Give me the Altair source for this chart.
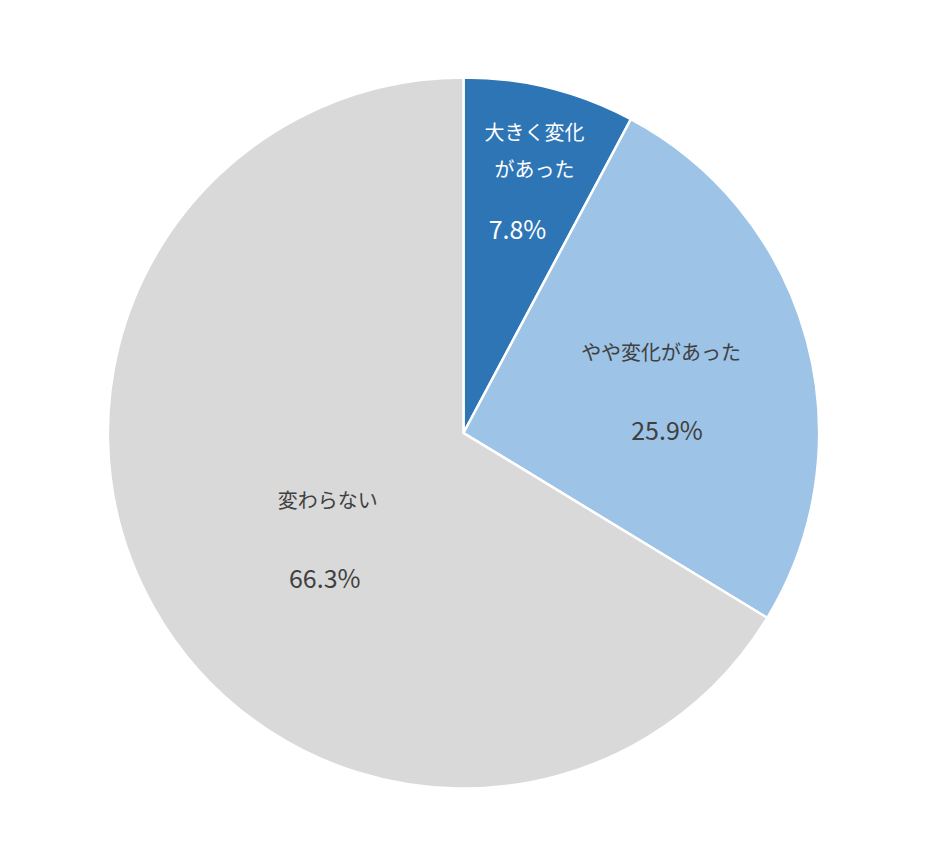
import altair as alt
import pandas as pd

categories = ["大きく変化があった", "やや変化があった", "変わらない"]
values = [7.8, 25.9, 66.3]
label_lines = ["大きく変化\nがあった", "やや変化があった", "変わらない"]
colors = ["#2E75B6", "#9DC3E6", "#D9D9D9"]
text_colors = ["#FFFFFF", "#404040", "#404040"]

df = pd.DataFrame({
    "category": categories,
    "value": values,
    "name": label_lines,
    "idx": list(range(len(categories))),
})

FONT = "Noto Sans CJK JP"
theta_scale = alt.Scale(domain=[0, 100])

base = alt.Chart(df).transform_window(
    cum="sum(value)", sort=[alt.SortField("idx")], frame=[None, 0]
).transform_calculate(
    start="datum.cum - datum.value",
    mid="datum.cum - datum.value / 2",
    pct="format(datum.value, '.1f') + '%'",
)

arcs = base.mark_arc(radius=356, stroke="white", strokeWidth=2.5).encode(
    theta=alt.Theta("start:Q", scale=theta_scale, stack=None),
    theta2=alt.Theta2("cum:Q"),
    color=alt.Color("category:N", scale=alt.Scale(domain=categories, range=colors), legend=None),
)

# (radius, name dx, name dy, pct dx, pct dy)
placements = [
    (260, 8, -47, -9, 50),
    (205, 0, -25, 6, 53),
    (180, 21, -19, 18, 59),
]

layers = [arcs]
for cat, tcol, (r, ndx, ndy, pdx, pdy) in zip(categories, text_colors, placements):
    b = base.transform_filter(alt.datum.category == cat)
    layers.append(
        b.mark_text(radius=r, dx=ndx, dy=ndy, fontSize=20, font=FONT, color=tcol,
                    lineBreak="\n", lineHeight=37, align="center", baseline="middle").encode(
            theta=alt.Theta("mid:Q", scale=theta_scale, stack=None),
            text="name:N",
        )
    )
    layers.append(
        b.mark_text(radius=r, dx=pdx, dy=pdy, fontSize=25, font=FONT, color=tcol,
                    align="center", baseline="middle").encode(
            theta=alt.Theta("mid:Q", scale=theta_scale, stack=None),
            text="pct:N",
        )
    )

chart = alt.layer(*layers).properties(width=902, height=840).configure_view(stroke=None)

chart.save("out.html", embed_options={"renderer": "svg", "actions": False})
